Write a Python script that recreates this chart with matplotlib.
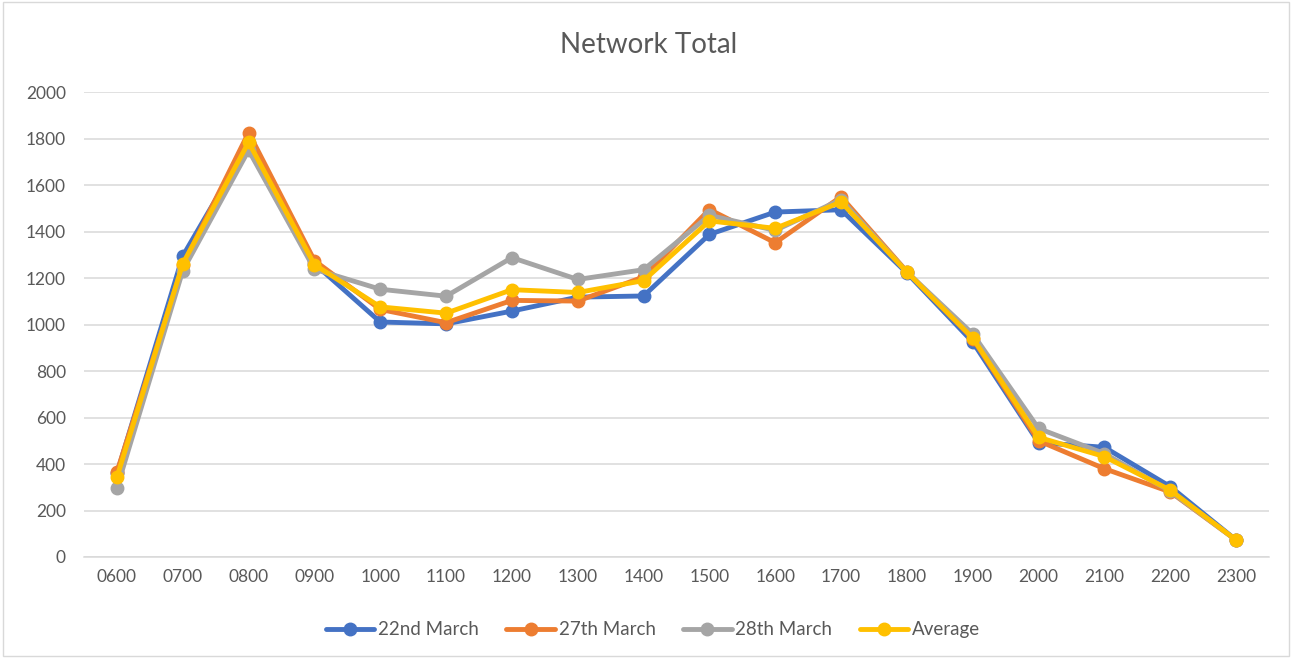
import matplotlib
matplotlib.use("Agg")
import matplotlib.pyplot as plt
from matplotlib.patches import Rectangle

plt.rcParams['font.family'] = ['Lato', 'DejaVu Sans']

hours = ["0600", "0700", "0800", "0900", "1000", "1100", "1200", "1300", "1400",
         "1500", "1600", "1700", "1800", "1900", "2000", "2100", "2200", "2300"]
march22 = [360, 1295, 1780, 1262, 1011, 1003, 1058, 1118, 1123,
           1388, 1484, 1494, 1222, 925, 492, 472, 303, 73]
march27 = [366, 1255, 1826, 1275, 1065, 1008, 1104, 1101, 1205,
           1495, 1352, 1550, 1228, 940, 500, 380, 280, 73]
march28 = [298, 1232, 1750, 1238, 1152, 1122, 1288, 1194, 1236,
           1470, 1405, 1538, 1226, 960, 553, 445, 283, 73]
average = [344, 1262, 1784, 1258, 1076, 1049, 1150, 1138, 1189,
           1446, 1414, 1527, 1226, 942, 515, 432, 288, 73]

series = [("22nd March", march22, "#4472C4"),
          ("27th March", march27, "#ED7D31"),
          ("28th March", march28, "#A5A5A5"),
          ("Average", average, "#FFC000")]

fig = plt.figure(figsize=(12.93, 6.58), dpi=100)
ax = fig.add_axes([0.065, 0.1535, 0.9164, 0.7065])

x = list(range(len(hours)))
for name, vals, col in series:
    ax.plot(x, vals, color=col, lw=3.5, marker='o', markersize=9,
            solid_capstyle='round', label=name)

ax.set_xlim(-0.5, len(hours) - 0.5)
ax.set_ylim(0, 2000)
ax.set_yticks(range(0, 2001, 200))
ax.set_xticks(x)
ax.set_xticklabels(hours)
ax.grid(axis='y', color='#D9D9D9', lw=1.1)
ax.set_axisbelow(True)
for s in ['top', 'right', 'left']:
    ax.spines[s].set_visible(False)
ax.spines['bottom'].set_color('#D9D9D9')
ax.spines['bottom'].set_linewidth(1.1)
ax.tick_params(axis='both', length=0, colors='#595959', labelsize=12.5, pad=9)
ax.tick_params(axis='y', pad=13)

fig.text(0.502, 0.932, "Network Total", ha='center', va='center',
         fontsize=20, color='#595959')

leg = fig.legend(loc='center', bbox_to_anchor=(0.505, 0.043), ncol=4,
                 frameon=False, fontsize=13.5, handlelength=2.6,
                 columnspacing=1.45, handletextpad=0.2, labelcolor='#595959')

fig.patches.append(Rectangle((0.002, 0.003), 0.995, 0.994, transform=fig.transFigure,
                             fill=False, edgecolor='#D9D9D9', lw=1))

fig.savefig("out.png", dpi=100, facecolor='white')
